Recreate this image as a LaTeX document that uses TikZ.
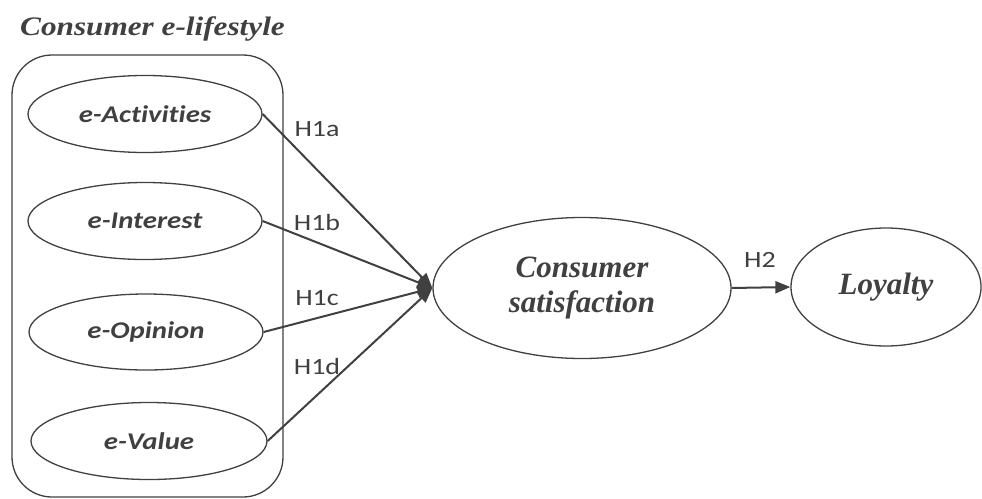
\documentclass[tikz,border=0pt]{standalone}
\usepackage{fontspec}
\setmainfont{Liberation Serif}
\newfontfamily\titlefont[FakeStretch=1.17]{Liberation Serif}
\newfontfamily\calfont[FakeStretch=1.2,Ligatures={NoCommon,NoRare,NoDiscretionary}]{Carlito}
\usetikzlibrary{shapes.geometric,arrows.meta}
\definecolor{ink}{HTML}{404040}
\tikzset{
  oval/.style={ellipse, draw=ink, line width=1.3pt, inner sep=0pt, text=ink},
  small/.style={oval, minimum width=234pt, minimum height=77pt,
    font=\calfont\bfseries\itshape\fontsize{24}{28}\selectfont},
  big/.style={oval, font=\bfseries\itshape\fontsize{31}{35}\selectfont, align=center},
  hyp/.style={text=ink, inner sep=0pt, font=\calfont\fontsize{23.3}{26}\selectfont},
  arr/.style={draw=ink, line width=2pt, -{Triangle[length=15pt,width=12pt]}},
}
\begin{document}
\begin{tikzpicture}[x=1pt,y=-1pt]
\useasboundingbox (0,0) rectangle (982,498);
\node[text=ink, anchor=base west, inner sep=0pt, font=\titlefont\bfseries\itshape\fontsize{26.7}{30}\selectfont] (title) at (20,35) {Consumer e-lifestyle};
\draw[draw=ink, line width=1.3pt, rounded corners=40pt] (12,55) rectangle (283,497);
\node[small] (act) at (145,114) {e-Activities};
\node[small] (int) at (145,221) {e-Interest};
\node[small, minimum height=76pt] (opi) at (146,332) {e-Opinion};
\node[small, minimum width=236pt] (val) at (149,441) {e-Value};
\node[big, minimum width=298pt, minimum height=141pt] (cs) at (582,288) {Consumer\\satisfaction};
\node[big, minimum width=190pt, minimum height=118pt] (loy) at (886,287) {Loyalty};
\draw[arr] (act.east) -- (cs.west);
\draw[arr] (int.east) -- (cs.west);
\draw[arr] (opi.east) -- (cs.west);
\draw[arr] (val.east) -- (cs.west);
\draw[arr] (cs.east) -- (loy.west);
\node[hyp] (h1a) at (317,129) {H1a};
\node[hyp] (h1b) at (317,222) {H1b};
\node[hyp] (h1c) at (317,298) {H1c};
\node[hyp] (h1d) at (317,366) {H1d};
\node[hyp] (h2) at (760,260) {H2};
\end{tikzpicture}
\end{document}
